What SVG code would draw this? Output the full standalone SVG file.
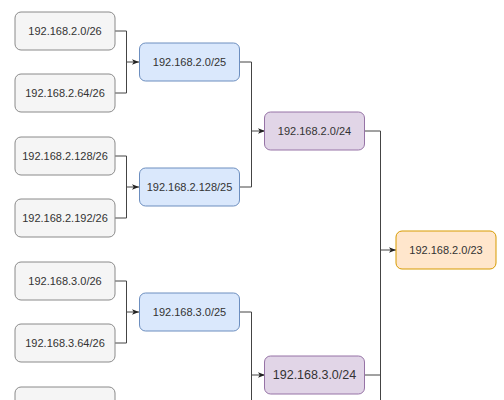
<svg xmlns="http://www.w3.org/2000/svg" width="504" height="400" viewBox="0 0 504 400">
<defs>
<marker id="arr" viewBox="0 0 10 10" refX="10" refY="5" markerWidth="7" markerHeight="7" markerUnits="userSpaceOnUse" orient="auto">
<path d="M0,1 L10,5 L0,9 L2.5,5 Z" fill="#222"/>
</marker>
<style>
.n rect{stroke-width:1}
.g rect{fill:#f5f5f5;stroke:#8a8a8a}
.b rect{fill:#dae8fc;stroke:#6c8ebf}
.p rect{fill:#e1d5e7;stroke:#9673a6}
.o rect{fill:#ffe6cc;stroke:#d79b00}
.n text{font-family:"Liberation Sans",Arial,sans-serif;font-size:11px;fill:#333;text-anchor:middle;dominant-baseline:central}
.c path{fill:none;stroke:#444;stroke-width:1}
.c .a{marker-end:url(#arr)}
</style>
</defs>
<rect width="504" height="400" fill="#fff"/>
<g class="c">
<path d="M115,31 H126.5 V93 H115"/>
<path class="a" d="M126.5,62 H139"/>
<path d="M115,156 H126.5 V218 H115"/>
<path class="a" d="M126.5,187 H139"/>
<path d="M115,281 H126.5 V343 H115"/>
<path class="a" d="M126.5,312 H139"/>
<path d="M239,62 H251.5 V187 H239"/>
<path class="a" d="M251.5,131 H265"/>
<path d="M239,312 H251.5 V400"/>
<path class="a" d="M251.5,375 H265"/>
<path d="M365,131 H380.5 V400"/>
<path d="M365,375 H380.5"/>
<path class="a" d="M380.5,250 H396"/>
</g>
<g id="n1" class="n g"><rect x="15" y="12" width="100" height="38" rx="6"/><text x="65" y="31">192.168.2.0/26</text></g>
<g id="n2" class="n g"><rect x="15" y="74" width="100" height="38" rx="6"/><text x="65" y="93">192.168.2.64/26</text></g>
<g id="n3" class="n g"><rect x="15" y="137" width="100" height="38" rx="6"/><text x="65" y="156">192.168.2.128/26</text></g>
<g id="n4" class="n g"><rect x="15" y="199" width="100" height="38" rx="6"/><text x="65" y="218">192.168.2.192/26</text></g>
<g id="n5" class="n g"><rect x="15" y="262" width="100" height="38" rx="6"/><text x="65" y="281">192.168.3.0/26</text></g>
<g id="n6" class="n g"><rect x="15" y="324" width="100" height="38" rx="6"/><text x="65" y="343">192.168.3.64/26</text></g>
<g id="n7" class="n g"><rect x="15" y="387" width="100" height="38" rx="6"/></g>
<g id="b1" class="n b"><rect x="139.5" y="43" width="100" height="38" rx="6"/><text x="189.5" y="62">192.168.2.0/25</text></g>
<g id="b2" class="n b"><rect x="139.5" y="168" width="100" height="38" rx="6"/><text x="189.5" y="187">192.168.2.128/25</text></g>
<g id="b3" class="n b"><rect x="139.5" y="293" width="100" height="38" rx="6"/><text x="189.5" y="312">192.168.3.0/25</text></g>
<g id="p1" class="n p"><rect x="264.5" y="112" width="100" height="38" rx="6"/><text x="314.5" y="131">192.168.2.0/24</text></g>
<g id="p2" class="n p"><rect x="264.5" y="356" width="100" height="38" rx="6"/><text x="314.5" y="375" style="font-size:12.5px">192.168.3.0/24</text></g>
<g id="o1" class="n o"><rect x="396" y="231" width="100" height="38" rx="6"/><text x="446" y="250">192.168.2.0/23</text></g>
</svg>
